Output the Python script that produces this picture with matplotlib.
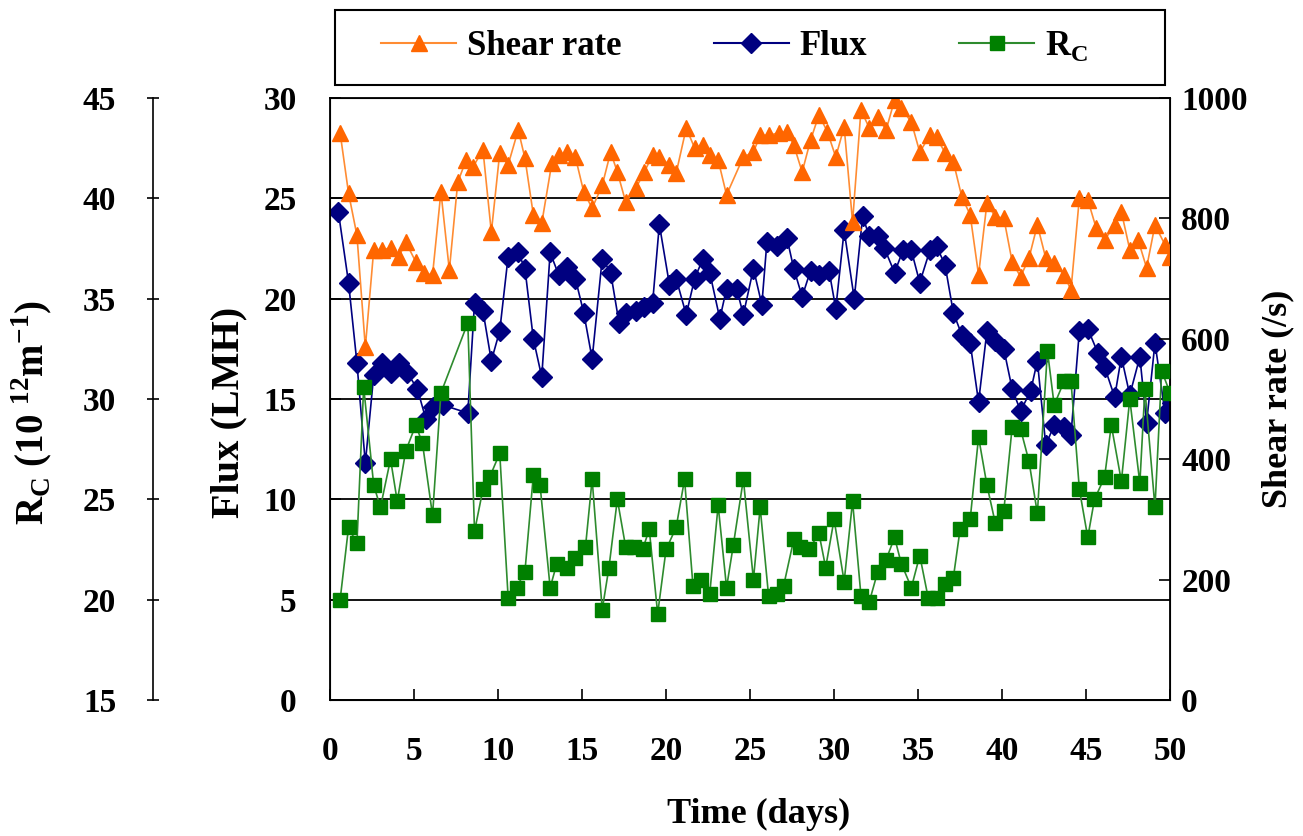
import matplotlib
matplotlib.use("Agg")
import matplotlib.pyplot as plt
from matplotlib.lines import Line2D
from matplotlib.patches import Rectangle

plt.rcParams["font.family"] = ["Liberation Serif", "DejaVu Serif"]
plt.rcParams["font.weight"] = "bold"
plt.rcParams["mathtext.fontset"] = "custom"
plt.rcParams["mathtext.rm"] = "Liberation Serif:bold"

# shear rate (/s)
shear_days = [0.6, 1.1, 1.6, 2.1, 2.6, 3.1, 3.6, 4.1, 4.5, 5.1,
              5.6, 6.1, 6.6, 7.1, 7.6, 8.1, 8.5, 9.1, 9.6, 10.1,
              10.6, 11.2, 11.6, 12.1, 12.6, 13.2, 13.6, 14.1, 14.6, 15.1,
              15.6, 16.2, 16.7, 17.1, 17.6, 18.2, 18.7, 19.2, 19.6, 20.2,
              20.6, 21.2, 21.7, 22.2, 22.6, 23.1, 23.6, 24.6, 25.2, 25.6,
              26.1, 26.7, 27.2, 27.6, 28.1, 28.6, 29.1, 29.6, 30.1, 30.6,
              31.1, 31.6, 32.1, 32.6, 33.1, 33.6, 34.0, 34.6, 35.1, 35.7,
              36.1, 36.6, 37.1, 37.6, 38.1, 38.6, 39.1, 39.6, 40.1, 40.6,
              41.1, 41.6, 42.1, 42.6, 43.1, 43.7, 44.1, 44.6, 45.1, 45.6,
              46.1, 46.7, 47.1, 47.6, 48.1, 48.6, 49.1, 49.7, 50.0]
shear_rate = [942, 842, 772, 586, 748, 748, 751, 736, 761, 728,
              709, 706, 844, 714, 860, 897, 885, 914, 777, 909,
              889, 947, 900, 806, 792, 892, 905, 910, 902, 844,
              817, 855, 910, 877, 827, 850, 877, 905, 902, 889,
              875, 950, 917, 922, 905, 897, 839, 902, 910, 938,
              938, 942, 944, 922, 877, 930, 972, 944, 902, 952,
              794, 980, 950, 968, 947, 997, 983, 960, 910, 938,
              935, 909, 894, 836, 806, 706, 826, 802, 801, 728,
              703, 734, 789, 734, 726, 706, 681, 834, 831, 784,
              764, 789, 811, 748, 764, 718, 789, 756, 736]

# flux (LMH)
flux_days = [0.5, 1.1, 1.6, 2.1, 2.6, 3.1, 3.6, 4.1, 4.6, 5.2,
             5.7, 6.1, 6.7, 8.2, 8.6, 9.1, 9.6, 10.1, 10.6, 11.2,
             11.6, 12.1, 12.6, 13.1, 13.6, 14.1, 14.6, 15.1, 15.6, 16.2,
             16.7, 17.2, 17.6, 18.2, 18.7, 19.2, 19.6, 20.2, 20.6, 21.2,
             21.7, 22.2, 22.6, 23.2, 23.6, 24.2, 24.6, 25.2, 25.7, 26.0,
             26.6, 27.2, 27.6, 28.1, 28.6, 29.1, 29.7, 30.1, 30.6, 31.2,
             31.7, 32.1, 32.6, 33.0, 33.6, 34.1, 34.6, 35.1, 35.7, 36.1,
             36.6, 37.1, 37.6, 38.1, 38.6, 39.1, 39.6, 40.1, 40.6, 41.1,
             41.7, 42.1, 42.6, 43.1, 43.7, 44.1, 44.6, 45.1, 45.7, 46.1,
             46.7, 47.1, 47.6, 48.2, 48.6, 49.1, 49.7, 50.1]
flux = [24.3, 20.8, 16.8, 11.8, 16.2, 16.8, 16.3, 16.8, 16.3, 15.5,
        14.0, 14.6, 14.7, 14.3, 19.8, 19.4, 16.9, 18.4, 22.1, 22.3,
        21.5, 18.0, 16.1, 22.3, 21.2, 21.6, 21.0, 19.3, 17.0, 22.0,
        21.3, 18.8, 19.3, 19.4, 19.6, 19.8, 23.7, 20.7, 21.0, 19.2,
        21.0, 22.0, 21.3, 19.0, 20.5, 20.5, 19.2, 21.5, 19.7, 22.8,
        22.6, 23.0, 21.5, 20.1, 21.4, 21.2, 21.4, 19.5, 23.4, 20.0,
        24.1, 23.1, 23.1, 22.5, 21.3, 22.4, 22.4, 20.8, 22.4, 22.6,
        21.7, 19.3, 18.2, 17.8, 14.85, 18.4, 17.9, 17.5, 15.5, 14.4,
        15.4, 16.9, 12.7, 13.7, 13.6, 13.2, 18.4, 18.5, 17.3, 16.6,
        15.1, 17.1, 15.2, 17.1, 13.8, 17.8, 14.3, 14.8]

# cake resistance Rc (10^12 m^-1)
rc_days = [0.6, 1.1, 1.6, 2.0, 2.6, 3.0, 3.6, 4.0, 4.5, 5.1,
           5.5, 6.1, 6.6, 8.2, 8.6, 9.1, 9.5, 10.1, 10.6, 11.1,
           11.6, 12.1, 12.5, 13.1, 13.5, 14.1, 14.6, 15.2, 15.6, 16.2,
           16.6, 17.1, 17.6, 18.1, 18.6, 19.0, 19.5, 20.0, 20.6, 21.1,
           21.6, 22.1, 22.6, 23.1, 23.6, 24.0, 24.6, 25.2, 25.6, 26.1,
           26.6, 27.0, 27.6, 28.0, 28.5, 29.1, 29.5, 30.0, 30.6, 31.1,
           31.6, 32.1, 32.6, 33.1, 33.6, 34.0, 34.6, 35.1, 35.6, 36.1,
           36.6, 37.1, 37.5, 38.1, 38.6, 39.1, 39.6, 40.1, 40.6, 41.1,
           41.6, 42.1, 42.7, 43.1, 43.7, 44.1, 44.6, 45.1, 45.5, 46.1,
           46.5, 47.1, 47.6, 48.2, 48.5, 49.1, 49.5, 50.0]
rc = [20.0, 23.6, 22.8, 30.6, 25.7, 24.6, 27.0, 24.9, 27.4, 28.7,
      27.8, 24.2, 30.3, 33.8, 23.4, 25.5, 26.1, 27.3, 20.1, 20.6,
      21.4, 26.2, 25.7, 20.6, 21.8, 21.6, 22.1, 22.6, 26.0, 19.5,
      21.6, 25.0, 22.6, 22.6, 22.5, 23.5, 19.3, 22.5, 23.6, 26.0,
      20.7, 21.0, 20.3, 24.7, 20.6, 22.7, 26.0, 21.0, 24.6, 20.2,
      20.3, 20.7, 23.0, 22.6, 22.5, 23.3, 21.6, 24.0, 20.9, 24.9,
      20.2, 19.9, 21.4, 22.0, 23.1, 21.8, 20.6, 22.2, 20.1, 20.1,
      20.8, 21.1, 23.5, 24.0, 28.1, 25.7, 23.8, 24.4, 28.6, 28.5,
      26.9, 24.3, 32.4, 29.7, 30.9, 30.9, 25.5, 23.1, 25.0, 26.1,
      28.7, 25.9, 30.0, 25.8, 30.5, 24.6, 31.4, 30.3]

ORANGE = "#ff6600"
NAVY = "#000080"
GREEN = "#008000"
TICK_FS = 24
LABEL_FS = 26

fig = plt.figure(figsize=(13.03, 8.36), dpi=100)
ax = fig.add_axes([0.2533, 0.1627, 0.6447, 0.7201])

# flux on the main axis
ax.plot(flux_days, flux, color=NAVY, lw=1.2, marker="D", ms=10,
        mfc=NAVY, mec=NAVY)
ax.set_xlim(0, 50)
ax.set_ylim(0, 30)
ax.set_xticks(range(0, 51, 5))
ax.set_yticks(range(0, 31, 5))
ax.yaxis.grid(True, color="black", lw=1.3)
ax.set_axisbelow(True)
ax.tick_params(axis="both", direction="in", length=8, width=1.2,
               labelsize=TICK_FS)
ax.tick_params(axis="x", pad=26)
ax.tick_params(axis="y", pad=24)
for s in ax.spines.values():
    s.set_linewidth(1.3)
ax.set_xlabel("Time (days)", fontsize=LABEL_FS, fontweight="bold")
ax.xaxis.set_label_coords(0.51, -0.163)
ax.set_ylabel("Flux (LMH)", fontsize=29, fontweight="bold")
ax.yaxis.set_label_coords(-0.098, 0.477)

# shear rate on the right
ax_s = ax.twinx()
ax_s.plot(shear_days, shear_rate, color="#ff8c33", lw=1.2, marker="^", ms=11,
          mfc=ORANGE, mec=ORANGE)
ax_s.set_ylim(0, 1000)
ax_s.set_yticks(range(0, 1001, 200))
ax_s.tick_params(axis="y", direction="in", length=8, width=1.2,
                 labelsize=TICK_FS, pad=8)
ax_s.set_ylabel("Shear rate (/s)", fontsize=LABEL_FS, fontweight="bold",
                labelpad=10)

# Rc on a detached left axis
ax_r = ax.twinx()
ax_r.plot(rc_days, rc, color="#2e8b2e", lw=1.2, marker="s", ms=10,
          mfc=GREEN, mec=GREEN)
ax_r.set_ylim(15, 45)
ax_r.set_yticks(range(15, 46, 5))
ax_r.spines["left"].set_position(("axes", -0.2107))
ax_r.spines["left"].set_visible(True)
ax_r.spines["left"].set_linewidth(1.2)
for side in ("right", "top", "bottom"):
    ax_r.spines[side].set_visible(False)
ax_r.yaxis.set_ticks_position("left")
ax_r.yaxis.set_label_position("left")
ax_r.tick_params(axis="y", direction="inout", length=9, width=1.2,
                 labelsize=TICK_FS, pad=22)
ax_r.set_ylabel("R$_\\mathregular{C}$ (10$^{\\mathregular{\\ 12}}$m$^{\\mathregular{-1}}$)",
                fontsize=28, fontweight="bold")
ax_r.yaxis.set_label_coords(-0.327, 0.477)

# legend: a plain box above the plot with the three entries inside
fig.add_artist(Rectangle((335 / 1303, 1 - 85 / 836), 830 / 1303, 75 / 836,
                         transform=fig.transFigure, fill=False,
                         edgecolor="black", lw=1.5))
handles = [
    Line2D([], [], color="#ff8c33", lw=1.5, marker="^", ms=11, mfc=ORANGE, mec=ORANGE),
    Line2D([], [], color=NAVY, lw=1.5, marker="D", ms=10, mfc=NAVY, mec=NAVY),
    Line2D([], [], color="#2e8b2e", lw=1.5, marker="s", ms=10, mfc=GREEN, mec=GREEN),
]
labels = ["Shear rate", "Flux", "R$_\\mathregular{C}$"]
fig.legend(handles, labels, loc="center left", ncol=3,
           bbox_to_anchor=(381 / 1303, 1 - 46 / 836), frameon=False,
           prop={"family": "Liberation Serif", "weight": "bold", "size": 25},
           handlelength=2.16, handletextpad=0.32, columnspacing=2.65,
           borderpad=0, borderaxespad=0)

fig.savefig("out.png", dpi=100)
